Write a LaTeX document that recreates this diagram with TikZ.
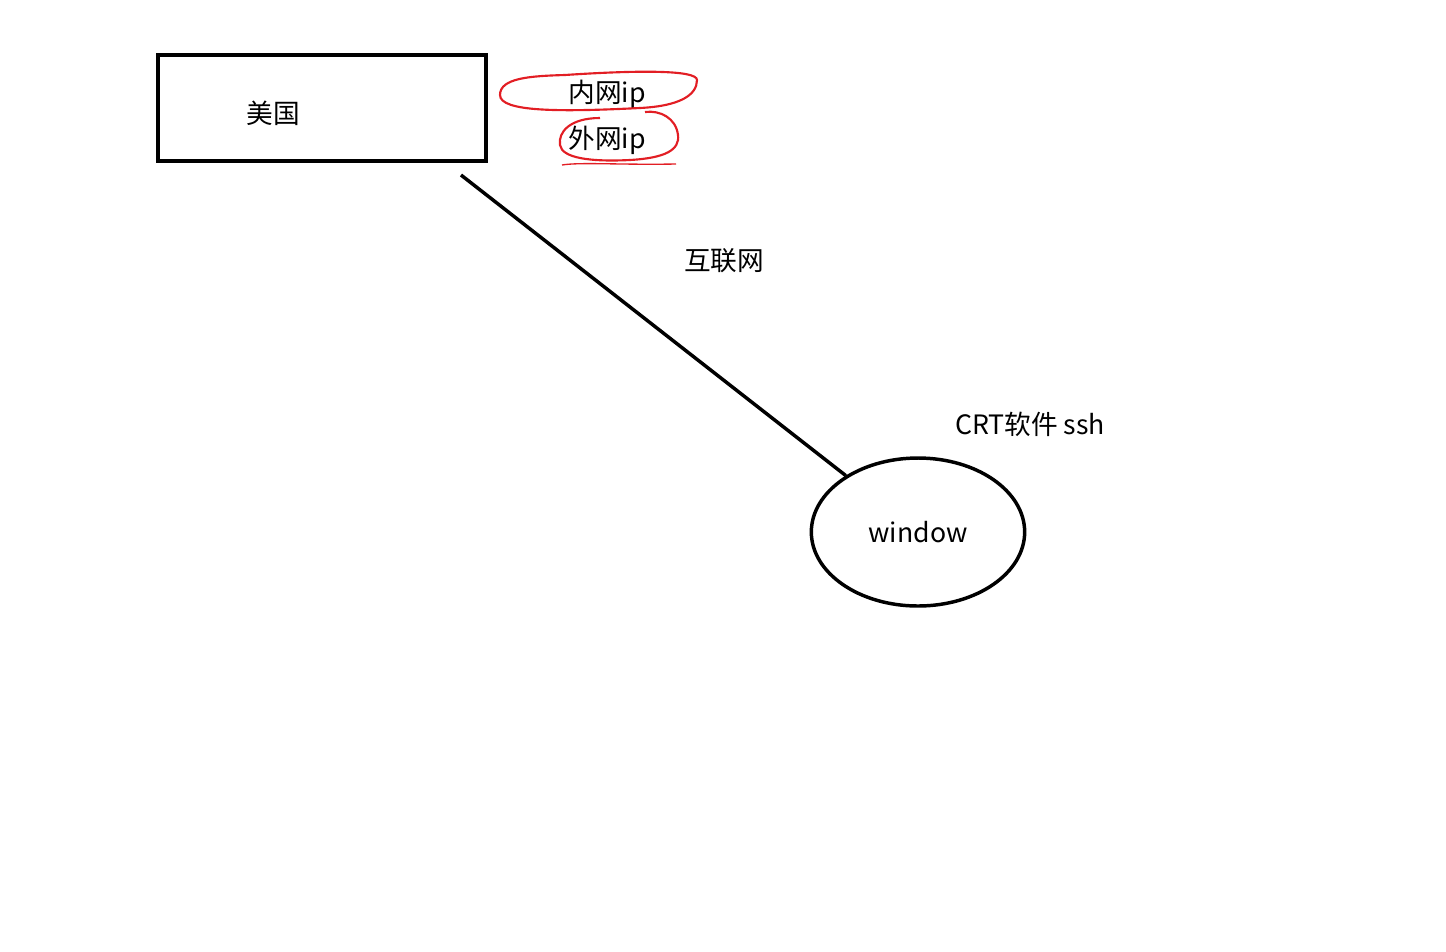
\documentclass[tikz,border=0pt]{standalone}
\usepackage{fontspec}
\setmainfont{Noto Sans CJK SC}
\usetikzlibrary{shapes.geometric}
\tikzset{every picture/.style={line width=2.6pt},
  lbl/.style={inner sep=0.75pt,font=\fontsize{20}{23}\selectfont},
  scrib/.style={draw={rgb,255:red,226;green,30;blue,36},line width=1.6pt}}
\begin{document}
\begin{tikzpicture}[x=0.75pt,y=0.75pt,yscale=-1,xscale=1]
    \useasboundingbox (0,0) rectangle (1446,951);
    %Rect
    \draw (158,55) rectangle (486,161);
    % Text Node
    \node[lbl] (usa) at (273,113) {美国};
    % Text Node
    \node[lbl] (lan) at (607,94) {内网ip};
    % Text Node
    \node[lbl] (wan) at (607,140) {外网ip};
    % Text Node
    \node[lbl] (net) at (724,261) {互联网};
    % Text Node
    \node[lbl] (crt) at (1030,424) {CRT软件 ssh};
    %Ellipse
    \node[lbl,draw,ellipse,minimum width=160pt,minimum height=111pt] (win) at (918,532) {window};
    %Straight Lines
    \coordinate (netA) at (461,175);
    \draw (netA) -- (win);
    %red scribbles
    \draw[scrib] (565,75) .. controls (530,76) and (500,78) .. (500,95) .. controls (500,112) and (560,112) .. (640,108) .. controls (680,106) and (697,95) .. (697,80) .. controls (697,70) and (640,70) .. (565,75);
    \draw[scrib] (600,118) .. controls (570,118) and (558,132) .. (560,145) .. controls (562,158) and (590,162) .. (630,160) .. controls (665,158) and (680,150) .. (678,135) .. controls (676,118) and (660,110) .. (645,112);
    \draw[scrib,line width=1pt] (562,165) .. controls (580,162) and (620,165) .. (676,164);
\end{tikzpicture}
\end{document}
